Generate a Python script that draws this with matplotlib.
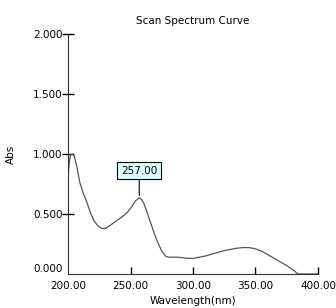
import matplotlib
matplotlib.use('Agg')
import matplotlib.pyplot as plt

# scan data
wavelength = [200, 201, 202, 203.5, 205, 207, 209.5, 212, 215, 218, 221, 224, 227,
              230, 233, 237, 241, 245, 248, 251, 254, 257, 259, 261, 263, 266,
              268, 270, 272, 275, 278, 280, 284, 288, 292, 296, 300, 305, 310,
              315, 320, 325, 330, 335, 340, 345, 350, 355, 360, 365, 370, 375,
              380, 384, 390, 400]
absorbance = [0.80, 0.93, 0.99, 1.00, 0.98, 0.90, 0.76, 0.68, 0.60, 0.51, 0.44, 0.40, 0.38,
              0.38, 0.40, 0.43, 0.46, 0.49, 0.52, 0.56, 0.61, 0.635, 0.62, 0.58, 0.52, 0.43,
              0.37, 0.31, 0.26, 0.19, 0.15, 0.14, 0.14, 0.14, 0.135, 0.13, 0.13, 0.14, 0.15,
              0.165, 0.18, 0.195, 0.205, 0.215, 0.22, 0.22, 0.21, 0.19, 0.16, 0.13, 0.10, 0.07,
              0.035, 0.0, 0.0, 0.0]
peak_wl = 257.00
peak_abs = 0.635

x_ticks = [200, 250, 300, 350, 400]
y_ticks = [0.0, 0.5, 1.0, 1.5, 2.0]

fig = plt.figure(figsize=(3.36, 3.08), dpi=100)
ax = fig.add_axes([0.2024, 0.1104, 0.744, 0.7792])

ax.plot(wavelength, absorbance, color='#555555', linewidth=0.9)

ax.set_xlim(200, 400)
ax.set_ylim(0, 2.0)
ax.set_xticks(x_ticks)
ax.set_xticklabels([f'{v:.2f}' for v in x_ticks])
ax.set_yticks(y_ticks)
ax.set_yticklabels([f'{v:.3f}' for v in y_ticks])
ax.tick_params(axis='x', direction='in', length=5, width=1, labelsize=7.5, pad=5)
ax.tick_params(axis='y', direction='inout', length=8, width=1, labelsize=7.5, pad=0)
# no tick marks at the origin, and the 0.000 label sits above its tick
ax.xaxis.get_major_ticks()[0].tick1line.set_visible(False)
ax.yaxis.get_major_ticks()[0].tick1line.set_visible(False)
ax.get_yticklabels()[0].set_verticalalignment('bottom')

for side in ['top', 'right']:
    ax.spines[side].set_visible(False)
for side in ['left', 'bottom']:
    ax.spines[side].set_color('#333333')

ax.set_xlabel('Wavelength(nm)', fontsize=7.5, labelpad=4)
ax.set_ylabel('Abs', fontsize=7.5, labelpad=12)
ax.set_title('Scan Spectrum Curve', fontsize=7.5, pad=7)

# peak marker
ax.annotate(f'{peak_wl:.2f}', xy=(peak_wl, peak_abs + 0.02),
            xytext=(peak_wl, peak_abs + 0.225), ha='center', va='center',
            fontsize=7.5,
            bbox=dict(boxstyle='square,pad=0.35', fc='#e0ffff', ec='black', lw=0.8),
            arrowprops=dict(arrowstyle='-', color='black', lw=0.8, shrinkA=0, shrinkB=0))

plt.savefig('out.png', dpi=100)
plt.close()
